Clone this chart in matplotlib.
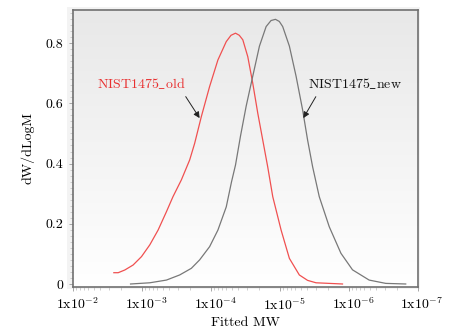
import numpy as np
import matplotlib
matplotlib.use("Agg")
import matplotlib.pyplot as plt
from matplotlib.patches import Rectangle
from matplotlib.transforms import ScaledTranslation

plt.rcParams['font.family'] = ['cmr10', 'DejaVu Serif']
plt.rcParams['mathtext.fontset'] = 'cm'
plt.rcParams['axes.unicode_minus'] = False
plt.rcParams['axes.formatter.use_mathtext'] = True

# data: log10 of x values (x axis is "Fitted MW" shown on an inverted log scale)
old_logx = [-2.592, -2.655, -2.751, -2.871, -2.993, -3.113, -3.233, -3.354, -3.449,
            -3.571, -3.691, -3.763, -3.860, -3.980, -4.100, -4.221, -4.290, -4.355,
            -4.410, -4.461, -4.533, -4.605, -4.678, -4.750, -4.822, -4.895, -5.016,
            -5.136, -5.280, -5.400, -5.522, -5.906]
old_y = [0.0375, 0.0375, 0.0465, 0.063, 0.091, 0.130, 0.179, 0.240, 0.290,
         0.346, 0.412, 0.467, 0.556, 0.656, 0.744, 0.805, 0.826, 0.833,
         0.826, 0.811, 0.755, 0.667, 0.567, 0.478, 0.389, 0.290, 0.179,
         0.085, 0.030, 0.012, 0.004, 0.000]

new_logx = [-2.834, -3.113, -3.354, -3.546, -3.715, -3.835, -3.980, -4.100, -4.221,
            -4.298, -4.355, -4.428, -4.510, -4.605, -4.702, -4.799, -4.870, -4.934,
            -4.990, -5.039, -5.136, -5.233, -5.328, -5.400, -5.473, -5.569, -5.714,
            -5.883, -6.051, -6.292, -6.533, -6.822]
new_y = [0.000, 0.004, 0.013, 0.030, 0.052, 0.080, 0.124, 0.179, 0.256,
         0.340, 0.395, 0.492, 0.591, 0.690, 0.790, 0.855, 0.875, 0.879,
         0.872, 0.855, 0.790, 0.690, 0.578, 0.478, 0.389, 0.290, 0.190,
         0.102, 0.047, 0.013, 0.002, 0.000]

xtick_vals = [1e-2, 1e-3, 1e-4, 1e-5, 1e-6, 1e-7]
xtick_labels = [r'1x10$^{-2}$', r'1x10$^{-3}$', r'1x10$^{-4}$', r'1x10$^{-5}$',
                r'1x10$^{-6}$', r'1x10$^{-7}$']
ytick_vals = [0, 0.2, 0.4, 0.6, 0.8]
ytick_labels = ['0', '0.2', '0.4', '0.6', '0.8']

W, H = 470, 330
fig = plt.figure(figsize=(W / 100, H / 100), dpi=100)
ax_l, ax_r, ax_t, ax_b = 73, 418, 10, 287
ax = fig.add_axes([ax_l / W, 1 - ax_b / H, (ax_r - ax_l) / W, (ax_b - ax_t) / H])

# faint outer frame
fig.patches.append(Rectangle((67 / W, 1 - 289 / H), (420 - 67) / W, (289 - 7) / H,
                             transform=fig.transFigure, facecolor='#f3f3f3',
                             edgecolor='none', zorder=-5))

# gradient background
grad = np.linspace(0, 1, 256).reshape(-1, 1)
ax.imshow(grad, extent=[0, 1, 0, 1], transform=ax.transAxes, aspect='auto',
          cmap=matplotlib.colors.LinearSegmentedColormap.from_list('g', ['#ffffff', '#e8e8e8']),
          origin='lower', zorder=0)

ax.plot(10 ** np.array(old_logx), old_y, color='#f05050', lw=0.9, zorder=2)
ax.plot(10 ** np.array(new_logx), new_y, color='#787878', lw=0.9, zorder=2)

ax.set_xscale('log')
ax.set_xlim(1e-2, 1e-7)
ax.set_ylim(-0.01, 0.91)

ax.set_xticks(xtick_vals)
ax.set_xticklabels(xtick_labels, fontsize=10)
ax.set_yticks(ytick_vals)
ax.set_yticklabels(ytick_labels, fontsize=10)
ax.yaxis.set_minor_locator(matplotlib.ticker.MultipleLocator(0.02))
ax.tick_params(which='major', direction='out', length=3, width=0.6, color='#999999', pad=4)
ax.tick_params(which='minor', direction='out', length=2, width=0.5, color='#bbbbbb')
ax.tick_params(axis='x', which='minor', length=2)

shift = ScaledTranslation(4 / 100, 0, fig.dpi_scale_trans)
for lbl in ax.get_xticklabels():
    lbl.set_transform(lbl.get_transform() + shift)

for s in ax.spines.values():
    s.set_color('#707070')
    s.set_linewidth(1.2)

ax.set_xlabel('Fitted MW', fontsize=10, labelpad=3)
ax.set_ylabel('dW/dLogM', fontsize=10, labelpad=8)

ax.annotate(r'$\mathrm{NIST1475\_old}$', xy=(10 ** -3.835, 0.551), xytext=(10 ** -2.983, 0.664),
            color='#e83030', fontsize=10, ha='center', va='center',
            arrowprops=dict(arrowstyle='-|>', color='#222222', lw=0.7, mutation_scale=9,
                            shrinkA=2, shrinkB=0, relpos=(0.97, 0.0)))
ax.annotate(r'$\mathrm{NIST1475\_new}$', xy=(10 ** -5.338, 0.551), xytext=(10 ** -6.08, 0.664),
            color='#111111', fontsize=10, ha='center', va='center',
            arrowprops=dict(arrowstyle='-|>', color='#222222', lw=0.7, mutation_scale=9,
                            shrinkA=2, shrinkB=0, relpos=(0.12, 0.0)))

fig.savefig('out.png', dpi=100)
